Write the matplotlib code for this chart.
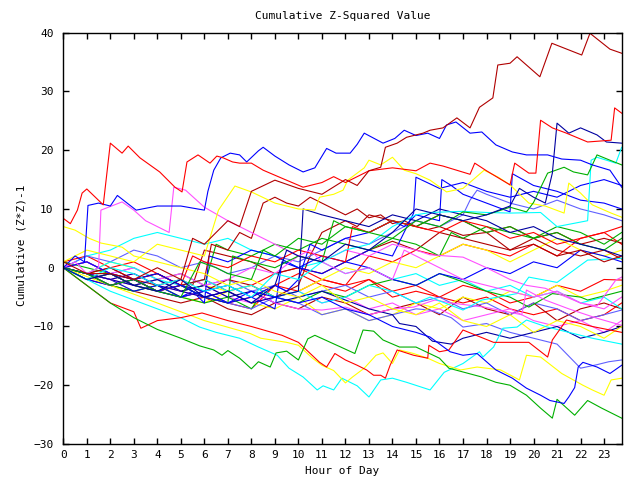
import matplotlib
matplotlib.use("Agg")
import matplotlib.pyplot as plt

# hourly grid used by the plainer walks
hrs = list(range(24)) + [23.75]

# each walk: hours, values
s01_h = [0, 1, 2, 3, 4, 5, 5.5, 6, 7, 7.5, 8, 9, 10, 11, 12, 12.5, 13, 13.5, 13.7, 14.2, 14.6, 15.3, 15.6, 16.15,
         16.74, 17.3, 17.7, 18.27, 18.48, 19.0, 19.3, 20.27, 20.78, 22.05, 22.4, 23.25, 23.75]
s01_v = [1, -1, -1, -2, 0, -2, 5, 4, 8, 7, 13, 14.9, 13.5, 12.5, 15, 14, 16.5, 17.1, 20.5, 21.2, 22.2, 22.9, 23.4,
         23.8, 25.5, 23.8, 27.3, 28.9, 34.5, 34.8, 35.9, 32.5, 38.2, 36.2, 39.9, 37.2, 36.5]
s02_h = [0, 0.3, 0.6, 0.8, 1.0, 1.7, 2.0, 2.5, 2.76, 3.26, 4.1, 4.75, 5.05, 5.26, 5.73, 6.24, 6.53, 6.8, 7.2, 7.5,
         8.0, 8.5, 9.2, 10.2, 11, 11.5, 12, 13, 14, 15, 15.6, 16.15, 17.3, 17.5, 18.0, 19.0, 19.2, 19.8, 20.1, 20.3,
         20.8, 21.4, 22.3, 23.3, 23.45, 23.75]
s02_v = [8.4, 7.5, 9.8, 12.7, 13.4, 10.7, 21.2, 19.5, 20.7, 18.7, 16.3, 13.7, 12.9, 18, 19.2, 17.8, 19, 18.7, 18, 17.8,
         17.8, 16.6, 15.4, 13.7, 14.5, 15.5, 14.5, 16.5, 17, 16.5, 17.8, 17.3, 15.9, 17.8, 16.5, 14.1, 17.8, 16.1, 16.1,
         25.1, 23.8, 22.9, 21.4, 21.7, 27.2, 26.3]
s03_h = [0, 0.5, 0.9, 1.05, 1.5, 2.0, 2.3, 3.1, 4, 5, 6.0, 6.15, 6.4, 6.7, 7.1, 7.5, 7.8, 8.3, 8.5, 9.0, 9.6, 10.2,
         10.7, 11.2, 11.6, 12.2, 12.5, 12.8, 13.6, 14.1, 14.5, 15.0, 15.5, 16.0, 16.3, 16.7, 17.3, 17.8, 18.4, 19.1,
         19.7, 20.6, 21.2, 22, 22.5, 23.25, 23.75]
s03_v = [0, 2, 1, 10.6, 11, 10.5, 12.3, 9.8, 10.5, 10.5, 9.8, 13, 16.6, 18.7, 19.5, 19.2, 18, 19.9, 20.5, 19, 17.5,
         16.3, 17, 20.3, 19.5, 19.5, 21, 22.9, 21.2, 22, 23.4, 22.5, 22.9, 22, 24.3, 24.8, 22.9, 23.1, 20.9, 19.7,
         19.2, 19.2, 18.5, 18.3, 17.5, 16.6, 13.7]
s04_h = [0, 1, 2, 3, 4, 5, 6, 7, 8, 9, 9.5, 10, 11, 12, 13, 14, 15, 16, 17, 18, 19, 19.4, 20, 20.5, 20.8, 21.0, 21.5,
         22, 22.7, 23.1, 23.75]
s04_v = [0, -2, -1, -3, -4, -2, -5, -4, -6, -3, 3, 2, 1, 4, 3, 6, 10, 9, 8, 9, 10.5, 13.5, 12, 11, 16.1, 24.6, 22.9,
         23.8, 22.6, 21.4, 21.2]
s06_h = [0, 1, 2, 3, 4, 5, 5.8, 6.5, 7, 8, 8.5, 9, 10, 11, 12, 13, 14, 15, 16, 17, 18, 19, 19.7, 20, 20.6, 21.3,
         21.7, 22.3, 22.7, 23.25, 23.75]
s06_v = [0, -1, -3, -2, -4, -5, 1, 0, -1, -2, 3, 2, 5, 4, 7, 6, 5, 8, 7, 9.5, 9, 10.3, 9.5, 11.1, 16.1, 17.1, 16.3,
         15.8, 19.2, 18.3, 17.5]
s07_h = [0, 1, 2, 3, 4, 5, 6, 7, 8, 9, 10, 11, 12, 13, 14, 15, 15.6, 17, 18, 19, 20.3, 21, 22.3, 22.45, 22.7, 23.5,
         23.75]
s07_v = [0, -2, 0, -1, -3, -2, -4, -3, -5, -1, -2, 1, 3, 4, 7, 9, 9.4, 9.6, 9.4, 9.3, 9.4, 7, 8, 18.3, 18.8, 17.8,
         20.5]
s08_h = [0, 1, 2, 3, 4, 5, 6, 6.6, 7.3, 8, 9, 10, 10.7, 10.9, 11.5, 11.9, 12.1, 12.8, 13, 13.5, 14, 14.5, 15, 15.6,
         16.3, 17, 17.9, 18.5, 19, 19.8, 20.5, 21.3, 21.5, 22, 22.5, 23.3, 23.75]
s08_v = [1, 3, 2, 1, 4, 3, 2, 9.8, 13.9, 12.9, 11, 10, 9.8, 12, 12.5, 13.2, 14.9, 17, 18.3, 17.5, 18.8, 16.6, 16,
         14.9, 12.9, 13.5, 16.6, 15.4, 14.1, 11, 10.5, 9.3, 14.4, 12.7, 10.7, 9.3, 8.6]
s09_h = [0, 0.5, 1.1, 1.6, 2.5, 3, 4, 5, 6, 7, 8, 9, 10, 11, 12, 13, 14, 15, 16, 17, 18, 19, 20, 21, 22, 23, 23.75]
s09_v = [7, 6.4, 5, 4.2, 3.5, 2, 1, 0, -1, -3, -2, -4, -5, -3, -6, -5, -7, -8, -6, -9, -10, -8, -11, -9, -10, -12, -10]
s10_h = [0, 0.5, 1, 1.5, 1.6, 2.5, 3, 3.5, 4, 4.5, 4.7, 5.2, 6, 7, 8, 8.5, 9, 10, 10.5, 11, 12, 13, 14, 14.5, 15,
         16, 17, 18, 19, 20, 21, 22, 23, 23.75]
s10_v = [0, 1, -1, 0, 9.8, 11.2, 9.8, 8, 7, 6, 13.7, 13.2, 10.3, 8, 6, 5, 4, 2, 3, 1, -1, 0, -2, 3, 2, 0, -2, -3, -4,
         -5, -4, -6, -7, -5]
s11_h = [0, 1, 2, 3, 4, 5, 6, 7, 8, 8.5, 9, 10, 11, 12, 13, 14, 14.9, 15.8, 16.5, 17.9, 19.5, 19.7, 20.5, 21.5, 22.7,
         23.75]
s11_v = [0, -1, -2, -3, -2, -4, -5, -4, -6, -4.9, -6, -7, -7.2, -6.7, -8, -7, -6.7, -5.5, -6, -6.7, -8, -3.8, -5.5,
         -7, -8.6, -9.8]
s12_h = [0, 1, 2, 3, 4, 5, 6, 7, 8, 9, 10, 11, 12, 13, 14, 15, 15.6, 17, 18, 19, 19.7, 20.5, 22, 22.7, 23.5, 23.75]
s12_v = [0, 1, -1, 0, -2, -1, -3, -2, 0, -1, 2, 1, 3, 2, 4, 3, 2.2, 1.8, 0, -2, -3, -3.5, -6, -6.5, -2.1, -1.6]
s13_h = [0, 1, 2, 3, 4, 5, 6, 7, 8, 9, 10, 11, 12, 13, 14, 15, 15.6, 17, 17.8, 19.3, 19.8, 21, 22.3, 23.75]
s13_v = [0, -1, 1, 0, -2, -3, -2, -4, -3, -5, -4, -6, -5, -3, -4, -6, -5, -7.2, -5.5, -4.4, -1.6, -2.5, 1.3, 1.6]
s15_v = [0, -2, -1, -3, -4, -3, -5, -6, -5, -3, -4, -2, -3, 2, 1, 3, 2, 4, 3, 2, 4, 2, 5, 6, 4]
s16_v = [0, -1, -3, -2, -4, -5, -4, -6, -7, -3, -1, -3, -4, -2, -5, -4, -5, -3, -4, -6, -5, -3, -4, -2, -2.1]
s17_v = [1, 2, 0, 1, -1, -3, -2, -4, -3, -1, 0, -2, -3, -2, -4, -3, -5, -6, -5, -7, -8, -7, -9, -8, -6]
s18_h = [0, 1, 2, 3, 4, 5, 6, 7, 8, 9, 10, 10.5, 11, 12, 12.5, 13, 14, 15, 16, 17, 18, 19, 20, 21, 22, 23, 23.75]
s18_v = [0, 1, -1, -2, -1, -3, -4, -2, -3, -5, -3, 2, 6, 8, 7, 9, 8, 7, 9, 8, 6, 7, 5, 6, 4, 5, 4.2]
s19_h = [0, 1, 2, 3, 4, 5, 5.5, 6, 7, 8, 9, 10, 11, 12, 13, 14, 15, 16, 17, 18, 19, 20, 21, 22, 23, 23.75]
s19_v = [0, -1, 0, -2, -3, -2, -3, 3, 2, 1, -1, 0, -1, 1, 3, 4.5, 3, 6, 5, 4, 3, 5, 3, 2, 3, 1.5]
s20_v = [0, -2, -3, -4, -5, -6, -5, -7, -8, -6, -7, -5, -6, -8, -7, -6, -8, -5, -7, -8, -6, -9, -7, -6, -7]
s21_h = [0, 1, 2, 3, 4, 5, 6, 7, 8, 8.5, 9, 10, 11, 12, 13, 14, 15, 16, 17, 18, 19, 19.8, 20.8, 22, 22.3, 23.75]
s21_v = [0, -1, -3, -4, -3, -5, -6, -5, -7, -4, -5, -6, -4, -5, -3, -2, -3, -1, -2.4, -4, -5, -6.7, -4.4, -5, -5.5, -4]
s22_h = [0, 1, 2, 3, 4, 5, 6, 6.5, 7, 8, 9, 10, 11, 12, 13, 14, 15, 16, 16.5, 17, 18, 19, 20, 21, 22, 23, 23.75]
s22_v = [1, 0, -1, -3, -2, -4, -3, 4, 3, 2, 4, 3, 5, 4, 3, 5, 4, 2, 6, 5, 7, 6, 5, 7, 6, 4, 6]
s23_v = [0, -1, 1, 0, -2, -1, -3, -4, -3, -5, -4, -2, 0, -1, 1, 0, 2, 4, 3, 1, 3, 5, 3, 2, 3]
s24_v = [0, -1, -2, -4, -3, -5, -6, -4, -6, -7, -5, -8, -7, -9, -8, -6, -7, -5, -6, -4, -5, -3, -5, -4, -3]
s25_h = [0, 1, 2, 3, 4, 5, 6, 7, 8, 9, 10, 11, 12, 13, 14, 15, 15.6, 16.5, 17, 18, 19, 20, 21, 22, 22.7, 23.2, 23.75]
s25_v = [0, -2, -1, -3, -4, -5, -4, -6, -7, -5, -6, -8, -7, -9, -8, -7, -7.2, -8.5, -10.1, -9.5, -11, -12, -13, -17.1,
         -16.5, -16, -15.7]
s26_v = [0, 1, -1, 0, -2, -1, -3, -2, -4, -3, -5, -4, -3, -5, -4, -6, -5, -7, -6, -8, -6, -7, -9, -8, -7.2]
s27_h = [0, 1, 2, 3, 4, 5, 6, 7, 8, 9, 10, 11, 12, 13, 14, 15, 16, 17, 17.3, 17.6, 18, 19, 20, 21, 22, 23, 23.75]
s27_v = [0, 2, 1, 3, 2, 0, 1, -1, 0, 2, 1, 3, 5, 4, 6, 8, 7, 9, 11.5, 13.2, 12.5, 11, 10, 11.5, 10, 9, 8]
s28_h = [0, 1, 2, 3, 4, 5, 6, 7, 8, 9, 10, 11, 12, 13, 14, 14.3, 15, 15.7, 16.5, 17, 18, 19, 20, 21, 22, 23, 23.75]
s28_v = [0, -1, -2, -1, -3, -4, -3, -5, -4, -6, -5, -4, -5.5, -7, -8, -9.5, -10, -12.5, -13, -12, -11, -12, -11, -10,
         -12, -11, -10]
s29_h = [0, 1, 2, 3, 4, 5, 6, 7, 8, 9, 10, 11, 12, 13, 14, 15, 15.6, 16.45, 17, 17.6, 18.4, 19.1, 19.7, 20.3, 20.7,
         21.3, 21.5, 21.75, 21.9, 22.1, 22.7, 23.25, 23.75]
s29_v = [0, -1, -3, -2, -4, -3, -5, -6, -4, -5, -6, -5, -7, -8, -10, -11, -11.8, -14.3, -14.9, -14.6, -17.4, -18.8,
         -20.5, -21.7, -22.6, -23.1, -22, -20.4, -16.9, -16.1, -16.9, -18, -16.6]
s30_h = [0, 1, 2, 3, 4, 5, 5.5, 6, 6.2, 7, 8, 9, 10, 11, 12, 13, 14, 15, 16, 17, 18, 19, 20, 21, 22, 23, 23.75]
s30_v = [0, -1, -2, -4, -3, -5, -4, -6, 2, 1, 3, 2, 0, -1, 1, 0, -2, -3, -1, -2, 0, -1, 1, 0, 3, 2, 1]
s31_h = [0, 1, 2, 3, 4, 5, 6, 7, 8, 9, 9.3, 10, 11, 12, 13, 14, 14.9, 15, 16, 17, 18, 19, 20, 21, 22, 23, 23.75]
s31_v = [0, -2, -3, -2, -4, -5, -4, -6, -5, -7, 1, 0, 2, 1, 3, 2, 9.3, 15.4, 13.5, 14.5, 13, 12, 13, 12, 14, 15, 14]
s32_h = [0, 1, 2, 3, 4, 5, 5.8, 6.5, 7.5, 8.3, 9.1, 9.6, 10.2, 10.8, 11.05, 11.5, 11.85, 12.5, 13, 13.5, 14, 14.6,
         15.6, 16, 16.2, 17, 17.7, 17.85, 18.3, 18.7, 19.3, 19.7, 20.5, 21.5, 22.5, 23.75]
s32_v = [0, -2, -4, -5.5, -7, -8.5, -10.1, -11, -12, -13.5, -14.9, -17.1, -18.6, -20.8, -20.1, -20.8, -18.8, -20.1,
         -22, -19.1, -18.8, -19.5, -20.8, -18.8, -17.8, -16.3, -14.3, -15.2, -13.5, -10.3, -10.1, -8.9, -10, -11, -12,
         -13]
s33_h = [0, 2, 4, 6, 7.95, 8.4, 9.5, 10, 10.6, 11, 11.5, 12, 12.3, 12.8, 13.3, 13.6, 14, 14.3, 14.9, 15.5, 16, 16.9,
         17.6, 18.6, 19.4, 19.7, 20.3, 21.2, 22.1, 22.5, 23, 23.3, 23.75]
s33_v = [0, -3, -6, -9, -11.2, -12, -12.7, -13.2, -15.4, -16.6, -17.5, -19.6, -18.6, -17.1, -14.9, -14.5, -16.3, -14,
         -14.6, -15.4, -16.3, -17.4, -16.9, -17.4, -19.1, -14.9, -15.2, -18, -20, -20.8, -21.7, -19.1, -18.8]
s34_h = [0, 1, 2, 3, 3.3, 4, 5, 5.9, 7, 8, 9.3, 10, 10.9, 11.2, 11.55, 12, 12.5, 12.9, 13.2, 13.5, 13.7, 13.9, 14.2,
         14.9, 15.5, 15.55, 16, 16.4, 17, 18.3, 19.8, 20.6, 20.8, 21.4, 22.5, 23.75]
s34_v = [0, -3, -6, -7.5, -10.3, -9, -8.5, -7.7, -9, -10, -11.5, -12.7, -16.1, -16.9, -14.6, -15.7, -16.6, -17.4,
         -18.3, -18.3, -18.8, -16.6, -14, -14.9, -15.4, -13.2, -14.3, -14, -10.6, -12.7, -12.7, -15.2, -12.3, -8.9, -10,
         -11]
s35_h = [0, 1, 2, 3, 4, 5, 5.8, 6.4, 6.75, 7, 7.5, 8, 8.3, 8.8, 9.05, 9.5, 10, 10.4, 10.7, 11.8, 12.4, 12.75, 13.2,
         13.6, 14.3, 15, 16, 16.4, 17.8, 18.4, 19, 19.7, 20.3, 20.8, 21, 21.75, 22.3, 22.9, 23.75]
s35_v = [0, -3, -6, -8.5, -10.5, -12, -13.3, -14, -14.9, -14.1, -15.4, -17.2, -16, -16.9, -14.5, -14.2, -15.7, -12.1,
         -11.5, -13.5, -14.6, -10.6, -10.8, -12.3, -13.5, -13.5, -15.4, -17.1, -18.6, -19.5, -20, -21.7, -23.9, -25.6,
         -22.4, -25.1, -22.6, -23.9, -25.6]
s36_h = [0, 1, 2, 3, 4, 5, 6, 6.3, 7, 7.5, 8, 8.5, 9, 9.5, 10, 10.5, 11, 11.5, 12, 12.5, 13, 13.5, 14, 14.5, 15, 15.5,
         16, 17, 18, 19, 20, 21, 22, 23, 23.75]
s36_v = [0, -1, 0, -2, -1, -3, -2, 4, 3, 6, 5, 11, 12, 11, 10.5, 12, 11, 10, 9, 10, 8.5, 9, 7.5, 8, 7, 6.5, 7, 5.5, 6,
         3, 4, 2, 3, 1, 2]
s37_h = [0, 1, 2, 3, 4, 5, 6, 7, 8, 8.5, 9, 9.5, 10, 10.5, 11, 12, 13, 14, 14.5, 15, 16, 16.1, 16.5, 17, 18, 19, 19.1,
         20, 21, 22, 23, 23.75]
s37_v = [0, 1, -1, -2, -1, -3, -4, -3, -5, -4, -3, -4, -2, 4, 3, 5, 6, 8, 7, 9, 8, 15, 14, 12.5, 11, 9.5, 16, 14, 13,
         11.5, 11, 10]
s38_h = [0, 1, 2, 3, 4, 5, 6, 7, 7.2, 8, 9, 10, 11, 11.5, 12, 13, 14, 15, 16, 17, 18, 19, 20, 21, 22, 23, 23.75]
s38_v = [0, -2, -1, -3, -4, -3, -5, -6, 2, 1, 0, 2, 1, 8, 7, 6, 8, 7, 9, 8, 6, 7, 5, 6, 4, 3, 5]
s39_v = [0, -1, -2, -1, -3, -4, -3, -5, -6, -5, -4, -6, -5, -7, -6, -8, -7, -9, -8, -7, -9, -10, -9, -11, -9]
s40_h = [0, 1, 2, 3, 4, 5, 5.5, 6, 7, 8, 9, 10, 11, 12, 12.3, 13, 14, 15, 16, 17, 18, 19, 20, 21, 22, 23, 23.75]
s40_v = [0, -1, -3, -2, -4, -3, 2, 1, 0, 2, 1, 3, 2, 1, 7, 6, 8, 7, 6, 8, 7, 5, 6, 4, 5, 6, 7]
s41_v = [0, 2, 3, 5, 6, 5, 4, 5, 3, 2, 0, 1, -1, 0, -2, -1, -3, -2, -4, -3, -5, -4, -6, -5, -7]
s42_h = [0, 1, 2, 3, 4, 5, 6, 7, 8, 9, 10, 10.2, 11, 12, 13, 14, 15, 16, 17, 18, 19, 20, 21, 22, 23, 23.75]
s42_v = [0, -1, -2, -3, -2, -4, -5, -4, -6, -5, -4, 10, 9, 8, 7, 9, 8, 10, 9, 8, 6, 7, 5, 4, 3, 2]

red, green, blue, magenta, cyan = '#ff0000', '#00b000', '#0000ff', '#ff50ff', '#00ffff'
darkred, yellow, slate, navy = '#b00000', '#ffff00', '#6060ff', '#0000a0'

walks = [
    (hrs, s15_v, red), (hrs, s16_v, red), (hrs, s17_v, red), (hrs, s20_v, darkred),
    (hrs, s23_v, yellow), (hrs, s24_v, yellow), (hrs, s26_v, slate), (hrs, s39_v, magenta), (hrs, s41_v, cyan),
    (s18_h, s18_v, darkred), (s19_h, s19_v, darkred), (s21_h, s21_v, green), (s22_h, s22_v, green),
    (s25_h, s25_v, slate), (s27_h, s27_v, slate), (s28_h, s28_v, navy), (s30_h, s30_v, blue),
    (s31_h, s31_v, blue), (s11_h, s11_v, magenta), (s12_h, s12_v, magenta), (s13_h, s13_v, cyan),
    (s36_h, s36_v, darkred), (s37_h, s37_v, blue), (s38_h, s38_v, green), (s40_h, s40_v, red),
    (s42_h, s42_v, navy),
    (s09_h, s09_v, yellow), (s10_h, s10_v, magenta), (s32_h, s32_v, cyan), (s33_h, s33_v, yellow),
    (s34_h, s34_v, red), (s35_h, s35_v, green), (s29_h, s29_v, blue), (s08_h, s08_v, yellow),
    (s07_h, s07_v, cyan), (s06_h, s06_v, green), (s04_h, s04_v, navy), (s03_h, s03_v, blue),
    (s02_h, s02_v, red), (s01_h, s01_v, darkred),
]

mono = 'DejaVu Sans Mono'
fig = plt.figure(figsize=(6.4, 4.8), dpi=100)
ax = fig.add_axes([0.0989, 0.075, 0.8725, 0.8569])

for h, v, c in walks:
    ax.plot(h, v, color=c, lw=0.8)

ax.set_xlim(0, 23.75)
ax.set_ylim(-30, 40)
ax.set_xticks(range(24))
ax.set_yticks(range(-30, 41, 10))
ax.tick_params(direction='in', top=True, right=True, length=4, width=1, labelsize=8)
ax.tick_params(axis='x', pad=4)
ax.tick_params(axis='y', pad=7)
for lab in ax.get_xticklabels() + ax.get_yticklabels():
    lab.set_family(mono)
for s in ax.spines.values():
    s.set_linewidth(1)

fig.text(0.535, 0.967, 'Cumulative Z-Squared Value', ha='center', va='center', family=mono, fontsize=8)
fig.text(0.535, 0.019, 'Hour of Day', ha='center', va='center', family=mono, fontsize=8)
fig.text(0.034, 0.49, 'Cumulative (Z*Z)-1', ha='center', va='center', rotation=90, family=mono, fontsize=8)

fig.savefig('out.png', dpi=100)
